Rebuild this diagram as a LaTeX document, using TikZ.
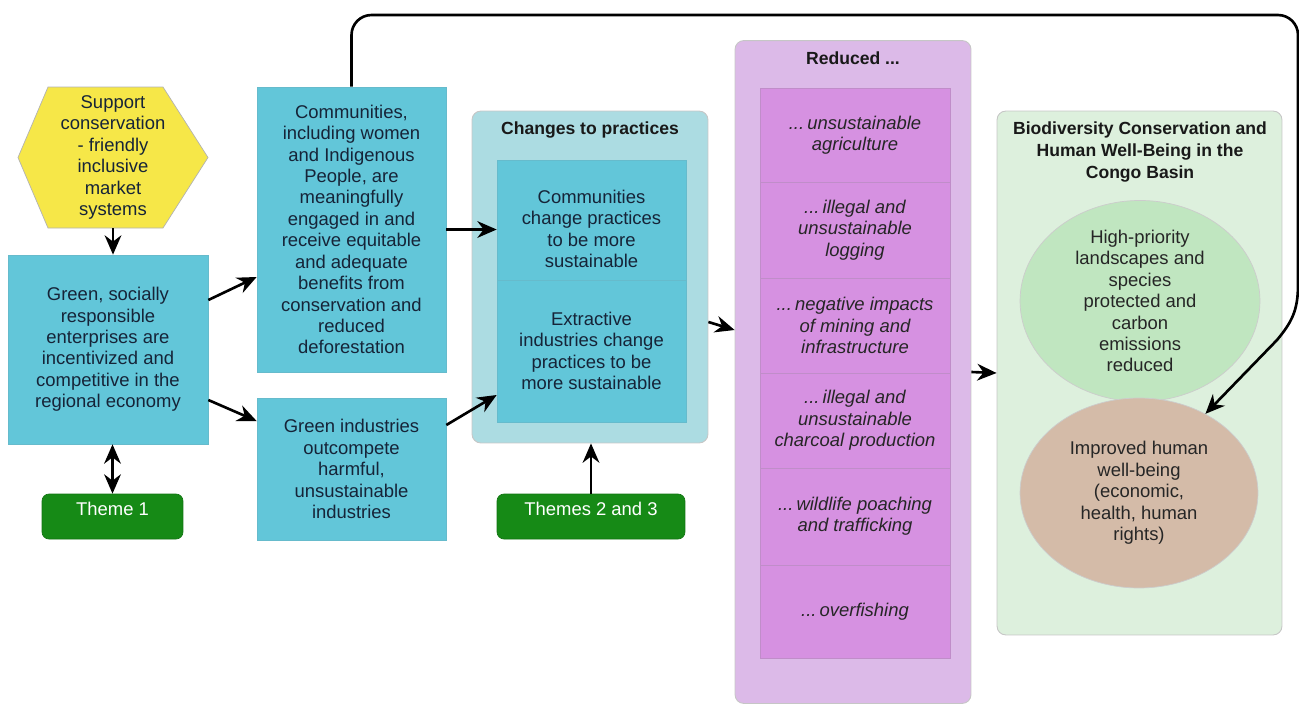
\documentclass[tikz,border=0pt]{standalone}
\usepackage{fontspec}
\setmainfont{Liberation Sans}
\usetikzlibrary{arrows.meta,shapes.geometric,calc}
\definecolor{cyanbox}{RGB}{98,198,217}
\definecolor{tealpanel}{RGB}{172,220,226}
\definecolor{purppanel}{RGB}{220,186,232}
\definecolor{purprow}{RGB}{214,145,225}
\definecolor{greenpanel}{RGB}{221,240,221}
\definecolor{ellgreen}{RGB}{192,230,192}
\definecolor{elltan}{RGB}{212,187,168}
\definecolor{themegreen}{RGB}{22,138,22}
\definecolor{hexyellow}{RGB}{246,231,72}
\definecolor{navytext}{RGB}{22,36,56}
\begin{document}
\begin{tikzpicture}[x=0.02cm,y=-0.02cm,
  txt/.style={align=center, inner sep=0, font=\fontsize{10.5}{12.2}\selectfont},
  box/.style={txt, fill=cyanbox, draw=cyanbox!85!gray, line width=0.4pt, text=navytext},
  theme/.style={txt, fill=themegreen, draw=themegreen!85!black, rounded corners=4pt, text=white, minimum height=0.9cm, text height=7.6pt, text depth=9pt},
  panel/.style={draw=gray!45, line width=0.5pt, rounded corners=5pt},
  ttl/.style={align=center, inner sep=0, font=\fontsize{10}{12.5}\selectfont\bfseries, text=black!90},
  row/.style={txt, fill=purprow, draw=purprow!75!gray, line width=0.4pt, minimum width=3.8cm, font=\fontsize{10.5}{12.2}\selectfont\itshape, text=black!85},
  ell/.style={txt, ellipse, draw=gray!40, line width=0.4pt, text=black!85},
  arr/.style={-{Stealth[length=11pt,width=9.5pt]}, line width=1.5pt},
  darr/.style={{Stealth[length=11pt,width=9.5pt]}-{Stealth[length=11pt,width=9.5pt]}, line width=1.5pt}
]
\useasboundingbox (0,0) rectangle (1299,704);

% hexagon
\fill[hexyellow, draw=gray!60, line width=0.4pt] (48,87) -- (163,87) -- (208,157.5) -- (163,228) -- (48,228) -- (18,157.5) -- cycle;
\node[txt, minimum width=3.8cm, minimum height=2.82cm, text=navytext] (hex) at (113,157.5)
  {Support\\conservation\\- friendly\\inclusive\\market\\systems};

% left column
\node[box, minimum width=4cm, minimum height=3.78cm] (A) at (108,349.5)
  {Green, socially\\responsible\\enterprises are\\incentivized and\\competitive in the\\regional economy};
\node[theme, minimum width=2.82cm] (T1) at (112.5,516.5) {Theme 1};

% second column
\node[box, minimum width=3.78cm, minimum height=5.7cm] (B) at (351.5,229.5)
  {Communities,\\including women\\and Indigenous\\People, are\\meaningfully\\engaged in and\\receive equitable\\and adequate\\benefits from\\conservation and\\reduced\\deforestation};
\node[box, minimum width=3.78cm, minimum height=2.84cm] (C) at (351.5,469)
  {Green industries\\outcompete\\harmful,\\unsustainable\\industries};

% changes to practices
\node[panel, fill=tealpanel, minimum width=4.72cm, minimum height=6.64cm] (P) at (590,277) {};
\node[ttl] (Pt) at (590,130) {Changes to practices};
\node[box, minimum width=3.78cm, minimum height=2.4cm] (D1) at (591.5,220) {};
\node[txt, text=navytext] (D1t) at (591.5,229) {Communities\\change practices\\to be more\\sustainable};
\node[box, minimum width=3.78cm, minimum height=2.84cm] (D2) at (591.5,351)
  {Extractive\\industries change\\practices to be\\more sustainable};
\node[theme, minimum width=3.76cm] (T23) at (591,516.5) {Themes 2 and 3};

% reduced
\node[panel, fill=purppanel, minimum width=4.72cm, minimum height=13.26cm] (R) at (853,372) {};
\node[ttl] (Rt) at (853,58) {Reduced ...};
\node[row, minimum height=1.88cm] (R1) at (855,135) {...\,unsustainable\\agriculture};
\node[row, minimum height=1.92cm] (R2) at (855,230) {...\,illegal and\\unsustainable\\logging};
\node[row, minimum height=1.9cm] (R3) at (855,325.5) {...\,negative impacts\\of mining and\\infrastructure};
\node[row, minimum height=1.9cm] (R4) at (855,420.5) {...\,illegal and\\unsustainable\\charcoal production};
\node[row, minimum height=1.94cm] (R5) at (855,516.5) {...\,wildlife poaching\\and trafficking};
\node[row, minimum height=1.86cm] (R6) at (855,611.5) {...\,overfishing};

% goal
\node[panel, fill=greenpanel, minimum width=5.7cm, minimum height=10.48cm] (G) at (1139.5,373) {};
\node[ttl] (Gt) at (1140,152) {Biodiversity Conservation and\\Human Well-Being in the\\Congo Basin};
\node[ell, fill=ellgreen, minimum width=4.8cm, minimum height=3.76cm] (E1) at (1140,301)
  {High-priority\\landscapes and\\species\\protected and\\carbon\\emissions\\reduced};
\node[ell, fill=elltan, minimum width=4.76cm, minimum height=3.8cm] (E2) at (1139,493)
  {Improved human\\well-being\\(economic,\\health, human\\rights)};

% connectors
\draw[arr] (hex.south) -- (hex.south |- A.north);
\draw[darr] (T1.north) -- (T1.north |- A.south);
\draw[arr] ([yshift=0.99cm]A.east) -- ([yshift=-0.95cm]B.west);
\draw[arr] ([yshift=-1.01cm]A.east) -- ([yshift=0.96cm]C.west);
\draw[arr] (B.east) -- (D1.west |- B.east);
\draw[arr] ([yshift=0.88cm]C.east) -- ([yshift=-0.88cm]D2.west);
\draw[arr] (T23.north) -- (T23.north |- P.south);
\draw[arr] ([yshift=-0.9cm]P.east) -- ([yshift=0.84cm]R.west);
\draw[arr] (R.east) -- (G.west);
\draw[arr, rounded corners=0.4cm] (B.north) -- (B.north |- 0,15) -- (1298,15) -- (1298,265)
  [sharp corners] .. controls (1298,310) and (1292,322) .. (1277,340) -- (E2.50);
\end{tikzpicture}
\end{document}
